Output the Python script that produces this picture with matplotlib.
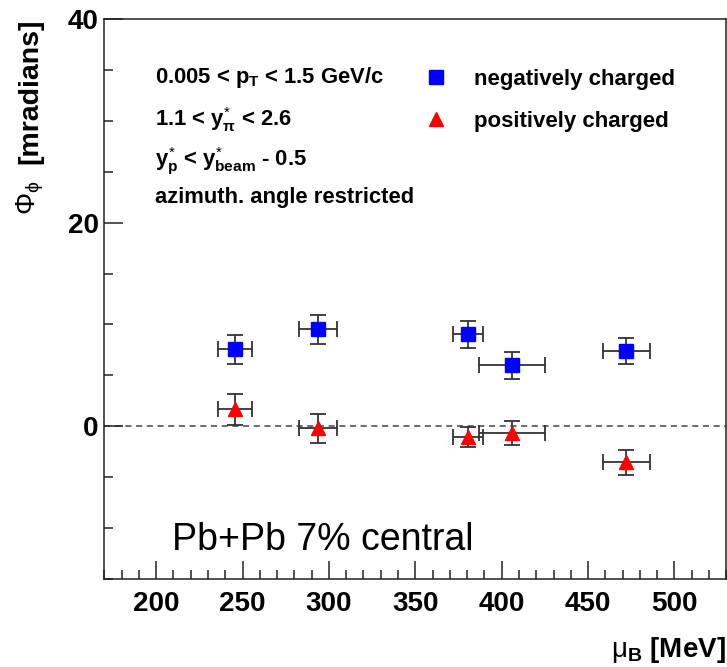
import matplotlib
matplotlib.use("Agg")
import matplotlib.pyplot as plt
from matplotlib.ticker import MultipleLocator
from matplotlib.lines import Line2D

plt.rcParams["font.family"] = ["Liberation Sans", "DejaVu Sans"]
plt.rcParams["mathtext.fontset"] = "custom"
plt.rcParams["mathtext.rm"] = "Liberation Sans"
plt.rcParams["mathtext.it"] = "Liberation Sans:bold"
plt.rcParams["mathtext.bf"] = "Liberation Sans:bold"

# data
mu_B = [245.6, 293.5, 380.4, 405.9, 472.2]
mu_B_err = [10.0, 11.0, 8.7, 19.0, 13.6]
phi_neg = [7.54, 9.5, 9.02, 5.97, 7.37]
phi_neg_err = [1.4, 1.45, 1.3, 1.35, 1.27]
phi_pos = [1.64, -0.23, -1.05, -0.66, -3.57]
phi_pos_err = [1.5, 1.4, 1.0, 1.16, 1.2]

fig = plt.figure(figsize=(7.27, 6.67), dpi=100)
ax = fig.add_axes([0.1435, 0.1325, 0.8555, 0.8385])

# zero line
ax.axhline(0, color="#444444", lw=1.1, ls=(0, (4, 3)), zorder=1)

ebar_style = dict(ls="none", ecolor="#333333", elinewidth=1.3,
                  capsize=5.5, capthick=1.3, zorder=2)
ax.errorbar(mu_B, phi_neg, xerr=mu_B_err, yerr=phi_neg_err, fmt="s",
            color="blue", ms=10, **ebar_style)
ax.errorbar(mu_B, phi_pos, xerr=mu_B_err, yerr=phi_pos_err, fmt="^",
            color="red", ms=10, **ebar_style)

ax.set_xlim(170, 530)
ax.set_ylim(-15, 40)
ax.xaxis.set_major_locator(MultipleLocator(50))
ax.xaxis.set_minor_locator(MultipleLocator(10))
ax.yaxis.set_major_locator(MultipleLocator(20))
ax.yaxis.set_minor_locator(MultipleLocator(5))
ax.tick_params(which="both", direction="in", top=False, right=False,
               color="#222222", width=1.1)
ax.tick_params(axis="x", which="major", length=13, pad=9)
ax.tick_params(axis="x", which="minor", length=6.5)
ax.tick_params(axis="y", which="major", length=13.5, pad=4)
ax.tick_params(axis="y", which="minor", length=6.7)
for lab in ax.get_xticklabels() + ax.get_yticklabels():
    lab.set_fontsize(20)
    lab.set_fontweight("bold")
for s in ax.spines.values():
    s.set_linewidth(1.1)
    s.set_color("#222222")

# axis titles
fig.text(0.999, (667 - 650) / 667, r"$\mathrm{\mu}_{B}$ [MeV]", ha="right",
         va="center", fontsize=20, fontweight="bold")
fig.text(30 / 727, (667 - 18) / 667, "[mradians]", rotation=90, ha="center",
         va="top", fontsize=20.5, fontweight="bold")
fig.text(30 / 727, (667 - 180) / 667, r"$\mathrm{\Phi}_{\mathrm{\phi}}$",
         rotation=90, ha="center", va="top", fontsize=20)

# cut descriptions
cuts = [r"0.005 < $p_{T}$ < 1.5 GeV/c",
        r"1.1 < $y^{*}_{\pi}$ < 2.6",
        r"$y^{*}_{p}$ < $y^{*}_{beam}$ - 0.5",
        "azimuth. angle restricted"]
cut_y = [78, 120, 161, 198]
for txt, yy in zip(cuts, cut_y):
    fig.text(155 / 727, (667 - yy) / 667, txt, ha="left", va="center",
             fontsize=15.8, fontweight="bold")

fig.text(172 / 727, (667 - 540) / 667, "Pb+Pb 7% central", ha="left",
         va="center", fontsize=27)

handles = [Line2D([], [], ls="none", marker="s", color="blue", ms=10),
           Line2D([], [], ls="none", marker="^", color="red", ms=10)]
labels = ["negatively charged", "positively charged"]
fig.legend(handles, labels, loc="upper left",
           bbox_to_anchor=(425 / 727, (667 - 69) / 667), frameon=False,
           borderaxespad=0, borderpad=0, handlelength=1.0,
           handletextpad=1.2, labelspacing=0.95,
           prop={"size": 16, "weight": "bold"})

fig.savefig("out.png", dpi=100)
